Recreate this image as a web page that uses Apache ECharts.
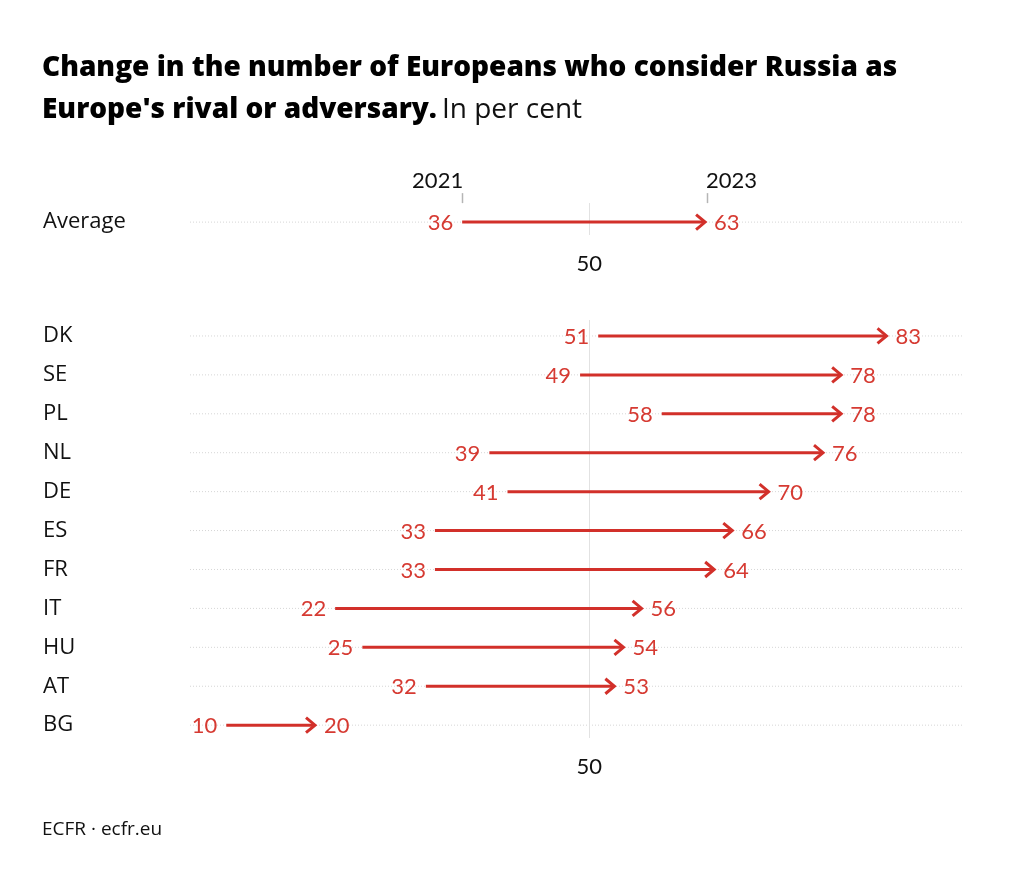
<!DOCTYPE html>
<html>
<head>
<meta charset="utf-8">
<script src="https://cdn.jsdelivr.net/npm/echarts@6/dist/echarts.min.js"></script>
<style>html,body{margin:0;padding:0;background:#fff;}#chart{width:1024px;height:888px;}</style>
</head>
<body>
<div id="chart"></div>
<script>
const countries = ['DK','SE','PL','NL','DE','ES','FR','IT','HU','AT','BG'];
const v2021 = [51,49,58,39,41,33,33,22,25,32,10];
const v2023 = [83,78,78,76,70,66,64,56,54,53,20];
const avgLabel = ['Average'];
const avg2021 = [36];
const avg2023 = [63];
const years = ['2021','2023'];
const refValue = 50;

const FONT = 'Lato';
const LFONT = '"Open Sans"';
const RED = '#d2302a';
const RED_TEXT = '#d63a32';

function makeRender(withYears) {
  return function (params, api) {
    const row = api.value(0), a = api.value(1), b = api.value(2);
    const s = api.coord([a, row]);
    const e = api.coord([b, row]);
    const y = s[1];
    const cs = params.coordSys;
    const ch = [];
    ch.push({type:'line', z2:0, shape:{x1:cs.x, y1:y, x2:cs.x+cs.width, y2:y},
      style:{stroke:'#d6d6d6', lineWidth:1, lineDash:[1,2]}});
    if (params.dataIndex === 0) {
      const rx = Math.round(api.coord([refValue, row])[0]) + 0.5;
      ch.push({type:'line', z2:1, shape:{x1:rx, y1:cs.y, x2:rx, y2:cs.y+cs.height},
        style:{stroke:'#e2e2e2', lineWidth:1}});
    }
    const tip = e[0] - 2;
    ch.push({type:'line', z2:10, shape:{x1:s[0], y1:y, x2:tip-1, y2:y},
      style:{stroke:RED, lineWidth:3}});
    ch.push({type:'polyline', z2:10, shape:{points:[[tip-9, y-7.5],[tip, y],[tip-9, y+7.5]]},
      style:{stroke:RED, lineWidth:3, fill:null, lineJoin:'miter'}});
    ch.push({type:'text', z2:10, style:{text:String(a), x:s[0]-9, y:y+1, align:'right', verticalAlign:'middle',
      fill:RED_TEXT, font:'22px ' + FONT}});
    ch.push({type:'text', z2:10, style:{text:String(b), x:e[0]+7, y:y+1, align:'left', verticalAlign:'middle',
      fill:RED_TEXT, font:'22px ' + FONT}});
    if (withYears) {
      [s[0], e[0]].forEach(function (x, k) {
        const xx = Math.round(x) + 0.5;
        ch.push({type:'line', z2:2, shape:{x1:xx, y1:y-29, x2:xx, y2:y-19},
          style:{stroke:'#b5b5b5', lineWidth:1.5}});
        ch.push({type:'text', z2:10, style:{text:years[k], x:k===0 ? x+1 : x-1, y:y-41,
          align:k===0 ? 'right' : 'left', verticalAlign:'middle', fill:'#111', font:'22px ' + FONT}});
      });
    }
    return {type:'group', children:ch};
  };
}

const xCommon = {
  type:'value', min:6, max:91.1,
  axisLine:{show:false}, axisTick:{show:false}, splitLine:{show:false},
  axisLabel:{customValues:[refValue], color:'#111', fontSize:22, fontFamily:FONT, margin:18}
};
const yCommon = {
  type:'value', inverse:true,
  axisLine:{show:false}, axisTick:{show:false}, splitLine:{show:false}
};

const chart = echarts.init(document.getElementById('chart'), null, {renderer:'canvas'});
chart.setOption({
  backgroundColor:'#fff',
  animation:false,
  title:[
    {left:42, top:47, padding:0,
     text:'{b|Change in the number of Europeans who consider Russia as}\n{b|Europe\'s rival or adversary.} {n|In per cent}',
     textStyle:{rich:{
       b:{fontFamily:LFONT, fontWeight:800, fontSize:28, lineHeight:42, color:'#000'},
       n:{fontFamily:LFONT, fontWeight:400, fontSize:28, lineHeight:42, color:'#111'}
     }}},
    {left:42, top:820, padding:0, text:'ECFR · ecfr.eu',
     textStyle:{fontFamily:LFONT, fontWeight:400, fontSize:19, color:'#111'}}
  ],
  grid:[
    {left:190, right:62, top:203, height:32},
    {left:190, right:62, top:320, height:418}
  ],
  xAxis:[
    Object.assign({gridIndex:0}, xCommon),
    Object.assign({gridIndex:1}, xCommon)
  ],
  yAxis:[
    Object.assign({gridIndex:0, min:-0.49, max:0.33,
      axisLabel:{customValues:[0], formatter:function(v){return avgLabel[v];}, align:'left', margin:147,
        padding:[3,0,0,0], color:'#111', fontSize:22, fontFamily:LFONT}}, yCommon),
    Object.assign({gridIndex:1, min:-0.41, max:10.33,
      axisLabel:{customValues:countries.map(function(c,i){return i;}), formatter:function(v){return countries[v];},
        align:'left', margin:147, padding:[3,0,0,0], color:'#111', fontSize:22, fontFamily:LFONT}}, yCommon)
  ],
  series:[
    {type:'custom', xAxisIndex:0, yAxisIndex:0, renderItem:makeRender(true), clip:false,
     data:avgLabel.map(function(c,i){return [i, avg2021[i], avg2023[i]];})},
    {type:'custom', xAxisIndex:1, yAxisIndex:1, renderItem:makeRender(false), clip:false,
     data:countries.map(function(c,i){return [i, v2021[i], v2023[i]];})}
  ]
});
</script>
</body>
</html>
